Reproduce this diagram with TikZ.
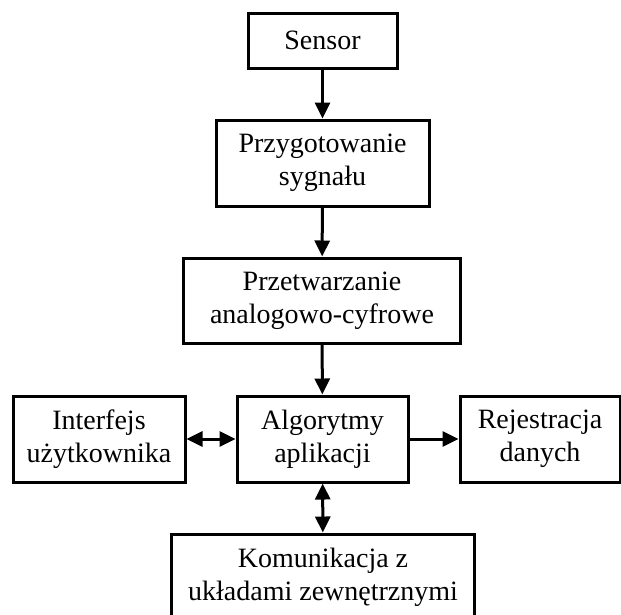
\documentclass[tikz,border=0pt]{standalone}
\usepackage{fontspec}
\setmainfont{Liberation Serif}
\usetikzlibrary{arrows.meta}

\begin{document}
\begin{tikzpicture}[x=1pt, y=-1pt,
        blok/.style={draw, line width=3pt, inner sep=0pt, align=center, font=\fontsize{28}{33}\selectfont},
        strzalka/.style={line width=3pt, -{Triangle[length=16pt, width=15pt]}},
        dwustronna/.style={line width=3pt, {Triangle[length=16pt, width=15pt]}-{Triangle[length=16pt, width=15pt]}}]
        \useasboundingbox (0,0) rectangle (621,614);
        \clip (0,0) rectangle (621,614);

        \node (sensor) at (322.5,40.5)[blok, minimum width=149pt, minimum height=55pt] {Sensor};
        \node (przygotowanie) at (322.5,163)[blok, minimum width=213pt, minimum height=86pt] {Przygotowanie\\sygnału};
        \node (przetwarzanie) at (322,300.5)[blok, minimum width=277pt, minimum height=85pt] {Przetwarzanie\\analogowo-cyfrowe};
        \node (interfejs) at (99,439)[blok, minimum width=172pt, minimum height=86pt] {Interfejs\\użytkownika};
        \node (algorytmy) at (322.5,439)[blok, minimum width=171pt, minimum height=86pt] {Algorytmy\\aplikacji};
        \node (rejestracja) at (540,439)[blok, minimum width=160pt, minimum height=86pt] {Rejestracja\\danych};
        \node (komunikacja) at (323,577.5)[blok, minimum width=303pt, minimum height=87pt] {Komunikacja z\\układami zewnętrznymi};

        \draw[strzalka] (sensor) -- (przygotowanie);
        \draw[strzalka] (przygotowanie) -- (przetwarzanie);
        \draw[strzalka] (przetwarzanie) -- (algorytmy);
        \draw[dwustronna] (interfejs) -- (algorytmy);
        \draw[strzalka] (algorytmy) -- (rejestracja);
        \draw[dwustronna] (algorytmy) -- (komunikacja);
    \end{tikzpicture}
\end{document}
